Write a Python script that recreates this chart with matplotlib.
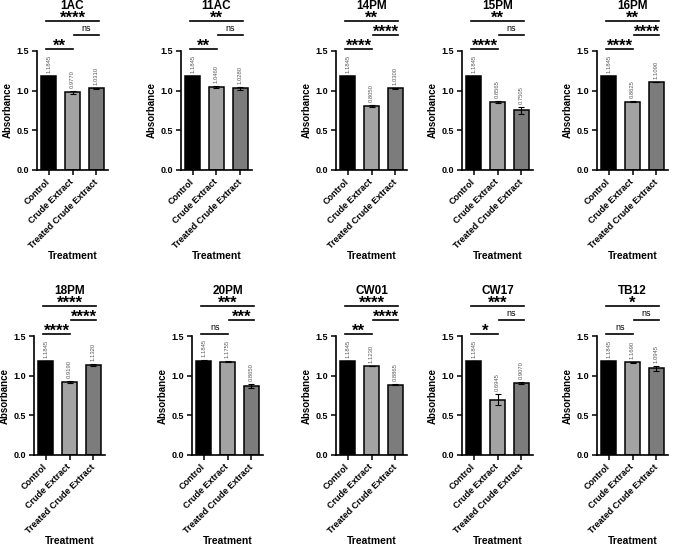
import matplotlib
matplotlib.use('Agg')
import matplotlib.pyplot as plt

plt.rcParams['font.family'] = ['Liberation Sans', 'DejaVu Sans']
plt.rcParams['font.weight'] = 'bold'

# data
strains = ['1AC', '11AC', '14PM', '15PM', '16PM', '18PM', '20PM', 'CW01', 'CW17', 'TB12']
groups = ['Control', 'Crude Extract', 'Treated Crude Extract']
control = [1.1845] * 10
crude = [0.9770, 1.0460, 0.8050, 0.8565, 0.8625, 0.9190, 1.1755, 1.1230, 0.6945, 1.1690]
treated = [1.0310, 1.0280, 1.0300, 0.7505, 1.1090, 1.1320, 0.8650, 0.8865, 0.9070, 1.0945]
err_control = [0.005, 0.005, 0.005, 0.005, 0.005, 0.005, 0.010, 0.005, 0.005, 0.005]
err_crude = [0.020, 0.010, 0.010, 0.010, 0.010, 0.010, 0.005, 0.005, 0.070, 0.005]
err_treated = [0.005, 0.015, 0.005, 0.045, 0.005, 0.010, 0.025, 0.005, 0.010, 0.030]
# significance: (control vs crude, crude vs treated, control vs treated)
sig_01 = ['**', '**', '****', '****', '****', '****', 'ns', '**', '*', 'ns']
sig_12 = ['ns', 'ns', '****', 'ns', '****', '****', '***', '****', 'ns', 'ns']
sig_02 = ['****', '**', '**', '**', '**', '****', '***', '****', '***', '*']

bar_colors = ['#000000', '#a3a3a3', '#7c7c7c']

W, H = 685, 547
fig = plt.figure(figsize=(W / 100, H / 100), dpi=100)

lefts = [[37, 181, 336, 462, 597], [34, 192, 336, 462, 597]]
tops = [51, 336]
ax_w, ax_h = 71, 119
px = 1.5 / ax_h  # data units per pixel


def sig_text(ax, x, y, s):
    if s == 'ns':
        ax.text(x, y + 4 * px, s, ha='center', va='baseline', fontsize=6.5,
                fontweight='normal', clip_on=False)
    else:
        ax.text(x, y - 1.5 * px, s, ha='center', va='baseline', fontsize=12,
                fontweight='bold', clip_on=False)


for i, name in enumerate(strains):
    row, col = divmod(i, 5)
    left = lefts[row][col]
    top = tops[row]
    ax = fig.add_axes([left / W, 1 - (top + ax_h) / H, ax_w / W, ax_h / H])
    vals = [control[i], crude[i], treated[i]]
    errs = [err_control[i], err_crude[i], err_treated[i]]
    xs = range(3)
    ax.bar(xs, vals, width=0.64, color=bar_colors, edgecolor='black', linewidth=1.1, zorder=2)
    ax.errorbar(xs, vals, yerr=errs, fmt='none', ecolor='black', elinewidth=0.8,
                capsize=2, capthick=0.8, zorder=3)
    for x, v, e in zip(xs, vals, errs):
        ax.text(x, v + e + 3 * px, f'{v:.4f}', rotation=90, ha='center', va='bottom',
                fontsize=4.2, fontweight='normal', color='#5a5a5a')

    ax.set_xlim(-0.5, 2.5)
    ax.set_ylim(0, 1.5)
    ax.set_yticks([0, 0.5, 1.0, 1.5])
    ax.set_yticklabels(['0.0', '0.5', '1.0', '1.5'])
    ax.set_xticks(list(xs))
    ax.set_xticklabels(groups, rotation=45, ha='right', rotation_mode='anchor', va='center')
    ax.tick_params(axis='both', labelsize=6.5, width=1.1, length=3.5, pad=2)
    ax.tick_params(axis='x', pad=4)
    for side in ['top', 'right']:
        ax.spines[side].set_visible(False)
    for side in ['left', 'bottom']:
        ax.spines[side].set_linewidth(1.2)

    ax.text(-29 / ax_w, 0.5, 'Absorbance', transform=ax.transAxes, rotation=90,
            ha='center', va='center', fontsize=7, fontweight='bold')
    ax.text(0.5, -86 / ax_h, 'Treatment', transform=ax.transAxes, ha='center',
            va='center', fontsize=7.5, fontweight='bold')

    # significance brackets
    y01 = 1.5 + 2 * px
    y12 = 1.5 + 16 * px
    y02 = 1.5 + 30 * px
    ax.plot([-0.1, 1.02], [y01, y01], color='black', lw=1.2, clip_on=False)
    ax.plot([1.08, 2.1], [y12, y12], color='black', lw=1.2, clip_on=False)
    ax.plot([-0.1, 2.1], [y02, y02], color='black', lw=1.2, clip_on=False)
    sig_text(ax, 0.46, y01, sig_01[i])
    sig_text(ax, 1.59, y12, sig_12[i])
    sig_text(ax, 1.0, y02, sig_02[i])

    ax.text(1.0, 1.5 + 45 * px, name, ha='center', va='center', fontsize=8.5,
            fontweight='bold', clip_on=False)

fig.savefig('out.png', dpi=100)
